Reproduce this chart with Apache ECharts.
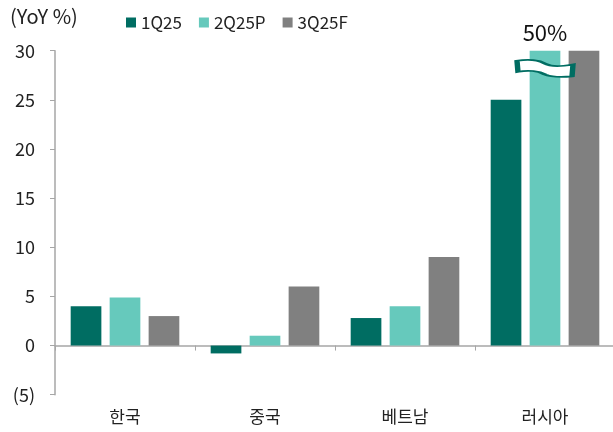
<!DOCTYPE html>
<html>
<head>
<meta charset="utf-8">
<script src="https://cdn.jsdelivr.net/npm/echarts@6/dist/echarts.min.js"></script>
<style>
  html, body { margin: 0; padding: 0; background: #fff; }
  #chart { width: 613px; height: 432px; }
</style>
</head>
<body>
<div id="chart"></div>
<script>
const categories = ['한국', '중국', '베트남', '러시아']
const q1 = [4.0, -0.8, 2.8, 25]
const q2 = [4.9, 1.0, 4.0, 50]
const q3 = [3.0, 6.0, 9.0, 30]
const seriesNames = ['1Q25', '2Q25P', '3Q25F']
const colors = ['#006d62', '#66c9bc', '#808080']
const yMin = -5
const yMax = 30
const yStep = 5

const font = '"Noto Sans CJK KR", "Noto Sans", sans-serif'
const axisGray = '#a6a6a6'

// bars above the axis max get cut at the top and carry their real value as a label
function capped(values) {
  return values.map((v) =>
    v > yMax
      ? {
          value: yMax,
          label: {
            show: true,
            position: 'top',
            distance: 7,
            formatter: v + '%',
            fontSize: 22,
            color: '#111',
            fontFamily: font,
          },
        }
      : v
  )
}

const chart = echarts.init(document.getElementById('chart'))

const breakPath =
  'path://M0,2 C12,0 22,1 29,5 C36,9 46,8 58,6 L57,19 C46,20 36,20 29,17 C22,13 12,12 1,14 Z'

const option = {
  animation: false,
  textStyle: { fontFamily: font },
  title: {
    text: '(YoY %)',
    left: 5,
    top: 1,
    textStyle: { fontSize: 20, fontWeight: 'normal', color: '#222', fontFamily: font },
  },
  legend: {
    data: seriesNames,
    left: 121,
    top: 9,
    itemWidth: 10,
    itemHeight: 10,
    itemGap: 17,
    icon: 'rect',
    textStyle: { fontSize: 17, color: '#222', fontFamily: font },
  },
  grid: {
    left: 55,
    top: 50.7,
    width: 560,
    bottom: 37.3,
    containLabel: false,
    outerBoundsMode: 'none',
  },
  xAxis: [
    {
      // line and ticks along zero
      type: 'category',
      data: categories,
      axisLine: { onZero: true, lineStyle: { color: axisGray, width: 1.5 } },
      axisTick: { show: true, length: 5, lineStyle: { color: axisGray } },
      axisLabel: { show: false },
    },
    {
      // category names at the bottom
      type: 'category',
      data: categories,
      position: 'bottom',
      axisLine: { show: false, onZero: false },
      axisTick: { show: false },
      axisLabel: { margin: 13, fontSize: 17, color: '#222', fontFamily: font },
    },
  ],
  yAxis: {
    type: 'value',
    min: yMin,
    max: yMax,
    interval: yStep,
    axisLine: { show: true, lineStyle: { color: axisGray, width: 1.5 } },
    axisTick: { show: true, length: 5, lineStyle: { color: axisGray } },
    splitLine: { show: false },
    axisLabel: {
      margin: 20,
      fontSize: 18,
      color: '#222',
      fontFamily: font,
      formatter: (v) => (v < 0 ? '(' + Math.abs(v) + ')' : String(v)),
    },
  },
  series: [
    {
      name: seriesNames[0],
      type: 'bar',
      data: q1,
      barGap: '27%',
      barCategoryGap: '22.4%',
      itemStyle: { color: colors[0] },
    },
    {
      name: seriesNames[1],
      type: 'bar',
      data: capped(q2),
      itemStyle: { color: colors[1] },
      z: 3,
      markPoint: {
        symbol: breakPath,
        symbolSize: [56, 17],
        itemStyle: { color: '#fff', borderColor: '#006d62', borderWidth: 3 },
        label: { show: false },
        data: [{ coord: ['러시아', 28.2] }],
      },
    },
    {
      name: seriesNames[2],
      type: 'bar',
      data: capped(q3),
      itemStyle: { color: colors[2] },
    },
  ],
}

chart.setOption(option)
</script>
</body>
</html>
